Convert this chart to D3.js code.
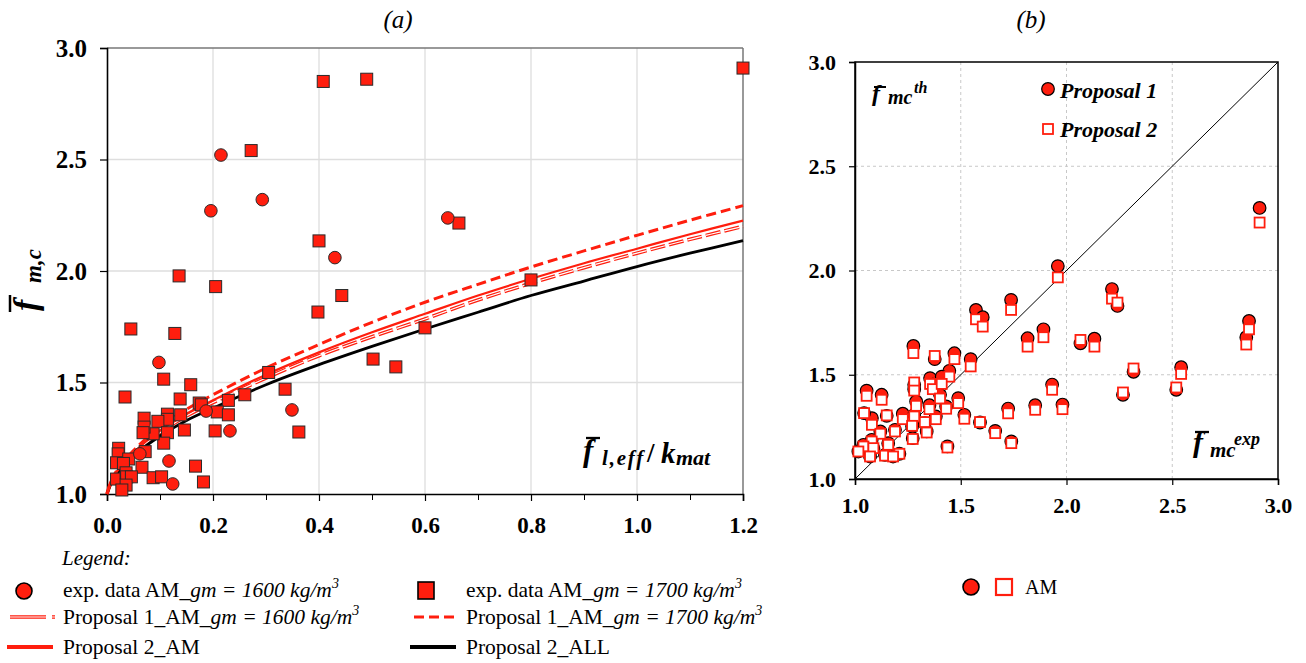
<!DOCTYPE html>
<html>
<head>
<meta charset="utf-8">
<script src="https://cdn.jsdelivr.net/npm/d3@7"></script>
<style>
  body { margin: 0; background: #fff; }
  svg text { font-family: "Liberation Serif", Tinos, "Times New Roman", Times, "Nimbus Roman", "DejaVu Serif", serif; }
</style>
</head>
<body>
<div id="chart"></div>
<script>
// ---- données -------------------------------------------------------------

// (a) points expérimentaux : [fl,eff/kmat , fm,c]
const circles1600 = [
  [0.196, 2.27], [0.215, 2.52], [0.293, 2.32], [0.43, 2.06], [0.643, 2.238],
  [0.098, 1.59], [0.349, 1.377], [0.187, 1.372], [0.232, 1.283], [0.062, 1.18],
  [0.117, 1.148], [0.124, 1.045]
];
const squares1700 = [
  [1.2, 2.91], [0.408, 2.85], [0.49, 2.86], [0.272, 2.54], [0.136, 1.978],
  [0.205, 1.93], [0.045, 1.74], [0.128, 1.72], [0.40, 2.135], [0.443, 1.89],
  [0.398, 1.816], [0.502, 1.605], [0.545, 1.57], [0.60, 1.745], [0.80, 1.96],
  [0.664, 2.215], [0.034, 1.435], [0.107, 1.515], [0.158, 1.49], [0.138, 1.426],
  [0.229, 1.42], [0.26, 1.445], [0.305, 1.545], [0.336, 1.47], [0.362, 1.278],
  [0.174, 1.408], [0.178, 1.40], [0.208, 1.368], [0.229, 1.355], [0.204, 1.283],
  [0.146, 1.287], [0.139, 1.355], [0.114, 1.358], [0.114, 1.335], [0.096, 1.326],
  [0.114, 1.275], [0.107, 1.228], [0.087, 1.27], [0.07, 1.34], [0.07, 1.30],
  [0.068, 1.275], [0.072, 1.19], [0.066, 1.12], [0.167, 1.125], [0.087, 1.073],
  [0.103, 1.077], [0.182, 1.054], [0.022, 1.205], [0.021, 1.18], [0.018, 1.14],
  [0.041, 1.157], [0.031, 1.137], [0.018, 1.067], [0.036, 1.095], [0.037, 1.077],
  [0.046, 1.077], [0.036, 1.04], [0.028, 1.018]
];

// (a) courbes des propositions (valeurs relevées)
const curveX   = [0, 0.01, 0.02, 0.05, 0.1, 0.15, 0.2, 0.3, 0.4, 0.5, 0.6, 0.7, 0.8, 0.9, 1.0, 1.1, 1.2];
const p1AM1600 = [1.0, 1.065, 1.10, 1.18, 1.275, 1.35, 1.41, 1.52, 1.62, 1.705, 1.785, 1.87, 1.945, 2.015, 2.08, 2.142, 2.20];
const p1AM1700 = [1.0, 1.07, 1.11, 1.195, 1.30, 1.38, 1.445, 1.565, 1.67, 1.77, 1.86, 1.94, 2.018, 2.09, 2.16, 2.228, 2.293];
const p2AM     = [1.0, 1.068, 1.105, 1.185, 1.285, 1.36, 1.42, 1.535, 1.635, 1.725, 1.808, 1.89, 1.965, 2.035, 2.10, 2.165, 2.226];
const p2ALL    = [1.0, 1.06, 1.095, 1.17, 1.26, 1.33, 1.385, 1.49, 1.58, 1.662, 1.74, 1.815, 1.89, 1.955, 2.02, 2.08, 2.136];

// (b) fmc exp / fmc th (proposal 1 & 2)
const fmcExp = [2.913, 1.959, 2.215, 2.241, 1.572, 1.604, 1.738, 1.816, 1.891, 2.066,
  2.132, 2.85, 2.863, 2.542, 2.519, 2.317, 2.267, 1.932, 1.981, 1.852, 1.724, 1.739,
  1.663, 1.591, 1.517, 1.488, 1.547, 1.47, 1.446, 1.276, 1.377, 1.055, 1.126, 1.437,
  1.355, 1.28, 1.28, 1.289, 1.368, 1.41, 1.402, 1.431, 1.352, 1.382, 1.33, 1.339,
  1.226, 1.28, 1.27, 1.273, 1.15, 1.08, 1.043, 1.12, 1.189, 1.079, 1.04, 1.016,
  1.087, 1.071, 1.157, 1.142, 1.21, 1.18];
const fmcTh1 = [2.30, 2.021, 1.911, 1.83, 1.811, 1.776, 1.859, 1.675, 1.718, 1.651,
  1.673, 1.68, 1.758, 1.536, 1.428, 1.514, 1.404, 1.453, 1.357, 1.354, 1.338, 1.18,
  1.231, 1.271, 1.308, 1.388, 1.575, 1.603, 1.519, 1.638, 1.575, 1.424, 1.404, 1.156,
  1.484, 1.452, 1.43, 1.372, 1.452, 1.491, 1.404, 1.348, 1.354, 1.30, 1.268, 1.228,
  1.313, 1.308, 1.252, 1.196, 1.303, 1.292, 1.316, 1.228, 1.236, 1.188, 1.164, 1.132,
  1.148, 1.108, 1.172, 1.116, 1.121, 1.108];
const fmcTh2 = [2.23, 1.967, 1.865, 1.846, 1.766, 1.731, 1.811, 1.635, 1.68, 1.667,
  1.635, 1.645, 1.718, 1.504, 1.439, 1.53, 1.415, 1.428, 1.335, 1.332, 1.315, 1.172,
  1.22, 1.273, 1.289, 1.364, 1.54, 1.575, 1.491, 1.604, 1.59, 1.399, 1.38, 1.151,
  1.456, 1.463, 1.424, 1.351, 1.431, 1.456, 1.386, 1.337, 1.335, 1.287, 1.273, 1.223,
  1.287, 1.30, 1.255, 1.192, 1.305, 1.26, 1.316, 1.217, 1.228, 1.18, 1.156, 1.132,
  1.148, 1.108, 1.164, 1.112, 1.121, 1.108];

// graduations
const xTicksA = [0, 0.2, 0.4, 0.6, 0.8, 1.0, 1.2];
const xMinorA = [0.1, 0.3, 0.5, 0.7, 0.9, 1.1];
const yTicksA = [1.0, 1.5, 2.0, 2.5, 3.0];
const ticksB  = [1.0, 1.5, 2.0, 2.5, 3.0];

// ---- mise en page ------------------------------------------------------
const RED = "#ff1e0e";
const SERIF = '"Liberation Serif", Tinos, "Times New Roman", Times, "Nimbus Roman", "DejaVu Serif", serif';
const fmt = d3.format(".1f");

const svg = d3.select("#chart").append("svg")
  .attr("width", 1306).attr("height", 663)
  .attr("font-family", SERIF)
  .style("background", "#fff");

const bold = (sel, size, italic) => sel.style("font-size", size + "px")
  .style("font-family", SERIF)
  .style("font-weight", "bold").style("font-style", italic ? "italic" : "normal");

// ======================= (a) ============================================
const xA = d3.scaleLinear().domain([0, 1.2]).range([107, 743]);
const yA = d3.scaleLinear().domain([1, 3]).range([494, 48]);
const gA = svg.append("g");

// grille
gA.selectAll(".gvx").data(xTicksA.slice(1, -1)).join("line")
  .attr("x1", d => xA(d)).attr("x2", d => xA(d))
  .attr("y1", yA(1)).attr("y2", yA(3))
  .attr("stroke", "#dedede").attr("stroke-width", 1.3);
gA.selectAll(".gvy").data(yTicksA.slice(1, -1)).join("line")
  .attr("x1", xA(0)).attr("x2", xA(1.2))
  .attr("y1", d => yA(d)).attr("y2", d => yA(d))
  .attr("stroke", "#dedede").attr("stroke-width", 1.3);

// cadre haut / droite gris
gA.append("line").attr("x1", xA(0)).attr("x2", xA(1.2)).attr("y1", yA(3)).attr("y2", yA(3))
  .attr("stroke", "#777").attr("stroke-width", 1.5);
gA.append("line").attr("x1", xA(1.2)).attr("x2", xA(1.2)).attr("y1", yA(3)).attr("y2", yA(1))
  .attr("stroke", "#777").attr("stroke-width", 1.5);

// axes
const axA_y = gA.append("g").attr("transform", `translate(${xA(0)},0)`)
  .call(d3.axisLeft(yA).tickValues(yTicksA).tickFormat(fmt).tickSize(7).tickPadding(13));
const axA_x = gA.append("g").attr("transform", `translate(0,${yA(1)})`)
  .call(d3.axisBottom(xA).tickValues(xTicksA).tickFormat(fmt).tickSize(7).tickPadding(16));
gA.append("g").attr("transform", `translate(0,${yA(1)})`)
  .call(d3.axisBottom(xA).tickValues(xMinorA).tickFormat("").tickSize(6))
  .select(".domain").remove();
[axA_y, axA_x].forEach(a => {
  a.attr("font-family", null);
  a.select(".domain").attr("stroke", "#000").attr("stroke-width", 1.6);
  a.selectAll(".tick line").attr("stroke", "#000").attr("stroke-width", 1.2);
});
bold(axA_y.selectAll("text"), 25, false).attr("fill", "#000");
bold(axA_x.selectAll("text"), 23, false).attr("fill", "#000");

// courbes
const lineA = (ys) => d3.line()
  .x((d, i) => xA(curveX[i])).y(d => yA(d))
  .curve(d3.curveCatmullRom)(ys);

// Proposal 1 1600 : double trait rouge tireté
gA.append("path").attr("d", lineA(p1AM1600)).attr("fill", "none")
  .attr("stroke", RED).attr("stroke-width", 3.6).attr("stroke-dasharray", "15,4");
gA.append("path").attr("d", lineA(p1AM1600)).attr("fill", "none")
  .attr("stroke", "#fff").attr("stroke-width", 1.2).attr("stroke-dasharray", "15,4");
// Proposal 2 ALL : noir
gA.append("path").attr("d", lineA(p2ALL)).attr("fill", "none")
  .attr("stroke", "#000").attr("stroke-width", 2.8);
// Proposal 2 AM : rouge continu
gA.append("path").attr("d", lineA(p2AM)).attr("fill", "none")
  .attr("stroke", RED).attr("stroke-width", 2.2);
// Proposal 1 1700 : tirets rouges
gA.append("path").attr("d", lineA(p1AM1700)).attr("fill", "none")
  .attr("stroke", RED).attr("stroke-width", 3).attr("stroke-dasharray", "10,5");

// points
gA.selectAll(".sq").data(squares1700).join("rect")
  .attr("x", d => xA(d[0]) - 6).attr("y", d => yA(d[1]) - 6)
  .attr("width", 12).attr("height", 12)
  .attr("fill", RED).attr("stroke", "#2a2a2a").attr("stroke-width", 1);
gA.selectAll(".ci").data(circles1600).join("circle")
  .attr("cx", d => xA(d[0])).attr("cy", d => yA(d[1])).attr("r", 6.3)
  .attr("fill", RED).attr("stroke", "#2a2a2a").attr("stroke-width", 1);

// titre (a)
svg.append("text").attr("x", 398).attr("y", 28).attr("text-anchor", "middle")
  .style("font-size", "25px").style("font-style", "italic").text("(a)");

// label y : f̄ m,c (vertical)
const yl = svg.append("g").attr("transform", "translate(37,0) rotate(-90)");
bold(yl.append("text").attr("x", -311).attr("y", 0).text("f"), 34, true);
bold(yl.append("text").attr("x", -283).attr("y", 4).text("m,c"), 23, true);
yl.append("line").attr("x1", -312).attr("x2", -295).attr("y1", -27).attr("y2", -27)
  .attr("stroke", "#000").attr("stroke-width", 2.5);

// label x dans le graphique : f̄ l,eff / k mat
bold(svg.append("text").attr("x", 583).attr("y", 461).text("f"), 31, true);
svg.append("line").attr("x1", 586).attr("x2", 600).attr("y1", 438).attr("y2", 438)
  .attr("stroke", "#000").attr("stroke-width", 2.3);
bold(svg.append("text").attr("x", 602).attr("y", 465).attr("letter-spacing", 1.8).text("l,eff"), 21, true);
bold(svg.append("text").attr("x", 647).attr("y", 462).text("/"), 27, false);
bold(svg.append("text").attr("x", 661).attr("y", 463).text("k"), 29, true);
bold(svg.append("text").attr("x", 676).attr("y", 465).text("mat"), 22, true);

// légende (a)
svg.append("text").attr("x", 62).attr("y", 565)
  .style("font-size", "21px").style("font-style", "italic").text("Legend:");

const legText = (x, y, main, ital, sup) => {
  const t = svg.append("text").attr("x", x).attr("y", y).style("font-size", "21.5px");
  t.append("tspan").text(main);
  if (ital) t.append("tspan").style("font-style", "italic").text(ital);
  if (sup) t.append("tspan").style("font-style", "italic").style("font-size", "14px")
    .attr("dy", -9).text(sup);
};
svg.append("circle").attr("cx", 24).attr("cy", 591).attr("r", 8)
  .attr("fill", RED).attr("stroke", "#000").attr("stroke-width", 1.6);
legText(63, 597, "exp. data AM_", "gm = 1600 kg/m", "3");
svg.append("rect").attr("x", 418).attr("y", 582).attr("width", 16).attr("height", 17)
  .attr("fill", RED).attr("stroke", "#000").attr("stroke-width", 1.6);
legText(466, 597, "exp. data AM_", "gm = 1700 kg/m", "3");

svg.append("line").attr("x1", 10).attr("x2", 55).attr("y1", 617).attr("y2", 617)
  .attr("stroke", RED).attr("stroke-width", 3.6).attr("stroke-dasharray", "36,6,3,10");
svg.append("line").attr("x1", 10).attr("x2", 55).attr("y1", 617).attr("y2", 617)
  .attr("stroke", "#fff").attr("stroke-width", 1.2).attr("stroke-dasharray", "36,6,3,10");
legText(63, 624, "Proposal 1_AM_", "gm = 1600 kg/m", "3");
svg.append("line").attr("x1", 414).attr("x2", 459).attr("y1", 617).attr("y2", 617)
  .attr("stroke", RED).attr("stroke-width", 3).attr("stroke-dasharray", "10,5");
legText(466, 624, "Proposal 1_AM_", "gm = 1700 kg/m", "3");

svg.append("line").attr("x1", 7).attr("x2", 53).attr("y1", 647).attr("y2", 647)
  .attr("stroke", RED).attr("stroke-width", 4);
legText(63, 654, "Proposal 2_AM");
svg.append("line").attr("x1", 410).attr("x2", 456).attr("y1", 647).attr("y2", 647)
  .attr("stroke", "#000").attr("stroke-width", 4);
legText(466, 654, "Proposal 2_ALL");

// ======================= (b) ============================================
const xB = d3.scaleLinear().domain([1, 3]).range([855, 1278]);
const yB = d3.scaleLinear().domain([1, 3]).range([479, 62]);
const gB = svg.append("g");

gB.selectAll(".gbx").data(ticksB.slice(1, -1)).join("line")
  .attr("x1", d => xB(d)).attr("x2", d => xB(d)).attr("y1", yB(1)).attr("y2", yB(3))
  .attr("stroke", "#c8c8c8").attr("stroke-width", 1).attr("stroke-dasharray", "3,3");
gB.selectAll(".gby").data(ticksB.slice(1, -1)).join("line")
  .attr("x1", xB(1)).attr("x2", xB(3)).attr("y1", d => yB(d)).attr("y2", d => yB(d))
  .attr("stroke", "#c8c8c8").attr("stroke-width", 1).attr("stroke-dasharray", "3,3");

gB.append("rect").attr("x", xB(1)).attr("y", yB(3))
  .attr("width", xB(3) - xB(1)).attr("height", yB(1) - yB(3))
  .attr("fill", "none").attr("stroke", "#000").attr("stroke-width", 1.5);

const axB_y = gB.append("g").attr("transform", `translate(${xB(1)},0)`)
  .call(d3.axisLeft(yB).tickValues(ticksB).tickFormat(fmt).tickSize(6).tickPadding(13));
const axB_x = gB.append("g").attr("transform", `translate(0,${yB(1)})`)
  .call(d3.axisBottom(xB).tickValues(ticksB).tickFormat(fmt).tickSize(6).tickPadding(12));
[axB_y, axB_x].forEach(a => {
  a.attr("font-family", null);
  a.select(".domain").attr("stroke", "#000").attr("stroke-width", 1.5);
  a.selectAll(".tick line").attr("stroke", "#000").attr("stroke-width", 1.2);
  bold(a.selectAll("text"), 22, false).attr("fill", "#000");
});

// diagonale
gB.append("line").attr("x1", xB(1)).attr("y1", yB(1)).attr("x2", xB(3)).attr("y2", yB(3))
  .attr("stroke", "#000").attr("stroke-width", 1);

// points : cercles (prop. 1) puis carrés (prop. 2)
gB.selectAll(".c1").data(fmcExp).join("circle")
  .attr("cx", d => xB(d)).attr("cy", (d, i) => yB(fmcTh1[i])).attr("r", 6.3)
  .attr("fill", RED).attr("stroke", "#000").attr("stroke-width", 1.2);
gB.selectAll(".s2").data(fmcExp).join("rect")
  .attr("x", d => xB(d) - 5).attr("y", (d, i) => yB(fmcTh2[i]) - 5)
  .attr("width", 10).attr("height", 10)
  .attr("fill", "#fff").attr("stroke", RED).attr("stroke-width", 1.8);

// titre (b)
svg.append("text").attr("x", 1031).attr("y", 28).attr("text-anchor", "middle")
  .style("font-size", "25px").style("font-style", "italic").text("(b)");

// légende interne
gB.append("circle").attr("cx", 1048).attr("cy", 89).attr("r", 6.3)
  .attr("fill", RED).attr("stroke", "#000").attr("stroke-width", 1.2);
bold(svg.append("text").attr("x", 1060).attr("y", 98).text("Proposal 1"), 22, true);
gB.append("rect").attr("x", 1043).attr("y", 124).attr("width", 10).attr("height", 10)
  .attr("fill", "#fff").attr("stroke", RED).attr("stroke-width", 1.8);
bold(svg.append("text").attr("x", 1060).attr("y", 137).text("Proposal 2"), 22, true);

// f̄mc th
bold(svg.append("text").attr("x", 872).attr("y", 101).text("f"), 24, true);
svg.append("line").attr("x1", 874).attr("x2", 886).attr("y1", 87).attr("y2", 87)
  .attr("stroke", "#000").attr("stroke-width", 2);
bold(svg.append("text").attr("x", 888).attr("y", 104).text("mc"), 20, true);
bold(svg.append("text").attr("x", 914).attr("y", 93).text("th"), 16, true);

// f̄mc exp
bold(svg.append("text").attr("x", 1193).attr("y", 452).text("f"), 30, true);
svg.append("line").attr("x1", 1195).attr("x2", 1209).attr("y1", 432).attr("y2", 432)
  .attr("stroke", "#000").attr("stroke-width", 2.3);
bold(svg.append("text").attr("x", 1210).attr("y", 457).text("mc"), 21, true);
bold(svg.append("text").attr("x", 1234).attr("y", 445).text("exp"), 18, true);

// légende bas (b)
svg.append("circle").attr("cx", 971).attr("cy", 587).attr("r", 8)
  .attr("fill", RED).attr("stroke", "#000").attr("stroke-width", 1.6);
svg.append("rect").attr("x", 996).attr("y", 579).attr("width", 16).attr("height", 16)
  .attr("fill", "#fff").attr("stroke", RED).attr("stroke-width", 2.2);
svg.append("text").attr("x", 1025).attr("y", 594).style("font-size", "20px").text("AM");
</script>
</body>
</html>
